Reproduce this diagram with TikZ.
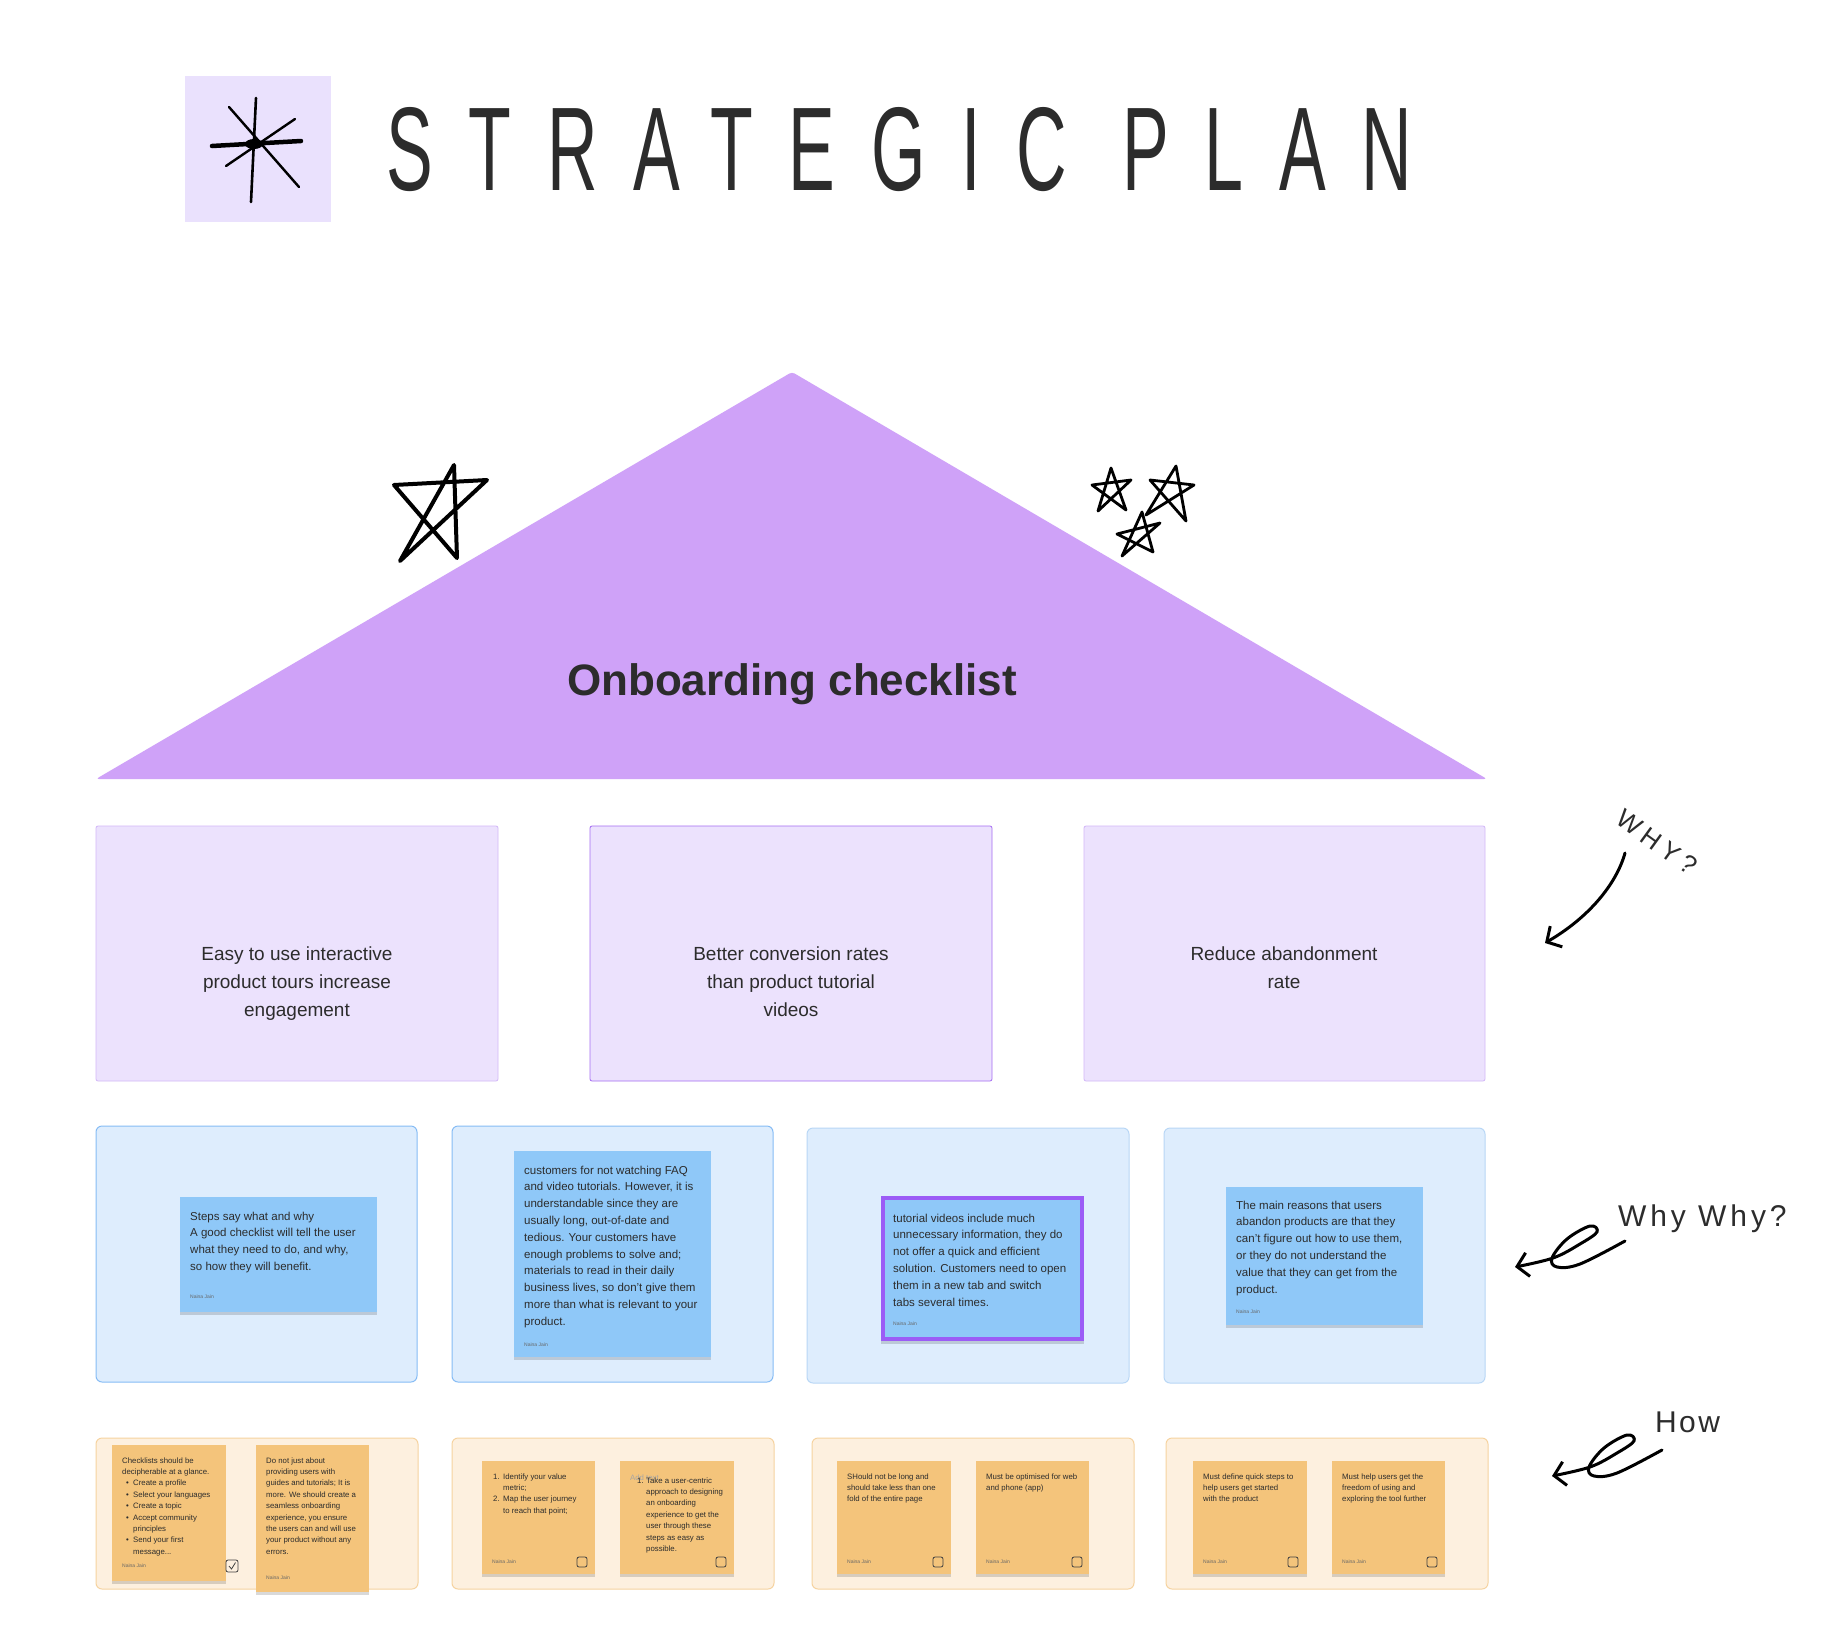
\documentclass[tikz,border=0pt]{standalone}
\usepackage{fontspec}
\setmainfont{Liberation Sans}
\usepackage{graphicx}
\usetikzlibrary{calc,arrows.meta,shadows}

\definecolor{tilelilac}{HTML}{EAE1FD}
\definecolor{roofpurple}{HTML}{CFA2F8}
\definecolor{lilac}{HTML}{ECE2FD}
\definecolor{lilacline}{HTML}{D3B8F8}
\definecolor{lilacdark}{HTML}{A56DF2}
\definecolor{skyfill}{HTML}{DEEDFD}
\definecolor{skyline}{HTML}{86BCF5}
\definecolor{skylight}{HTML}{B9D7F6}
\definecolor{skynote}{HTML}{8FC8F8}
\definecolor{sandfill}{HTML}{FDF0DF}
\definecolor{sandline}{HTML}{F6D3A0}
\definecolor{sandnote}{HTML}{F4C47B}
\definecolor{notepurple}{HTML}{9B5CF6}
\definecolor{ink}{HTML}{2C2C2C}

\tikzset{
    pillar/.style={fill=lilac,draw=lilacline,line width=0.8pt,rounded corners=2pt},
    pillartext/.style={anchor=north,align=center,inner sep=0pt,text=ink,font=\fontsize{19}{28}\selectfont},
    tray/.style={line width=1pt,rounded corners=6pt},
    note shadow/.style={drop shadow={shadow xshift=0pt,shadow yshift=-2.5pt,opacity=0.15,fill=black}},
    notetext/.style={anchor=north west,align=left,inner sep=0pt,text=ink,font=\fontsize{11.5}{16.8}\selectfont},
    smalltext/.style={anchor=north west,align=left,inner sep=0pt,text=ink,font=\fontsize{7.8}{11.4}\selectfont},
    author/.style={anchor=base west,inner sep=0pt,text=black!60,font=\fontsize{5}{6}\selectfont},
    tickbox/.style={draw=black!75,line width=0.8pt,rounded corners=2pt},
    hand/.style={black,line width=3pt,line cap=round,line join=round},
    barb/.style={-{Straight Barb[length=11pt,width=24pt]}},
}

\begin{document}
\begin{tikzpicture}[x=1pt,y=-1pt]

    % Canvas
    \fill[white] (0,0) rectangle (1832,1636);
    \useasboundingbox (0,0) rectangle (1832,1636);

    % Title tile with the asterisk
    \fill[tilelilac] (185,76) rectangle (331,222);
    \draw[hand,line width=2.6pt] (256,98) -- (251,202);
    \draw[hand,line width=2.4pt] (229,107) -- (299,187);
    \draw[hand,line width=2.4pt] (295,119) -- (226,166);
    \draw[hand,line width=4.5pt] (212,146) -- (301,141);
    \fill[black] (254,144) ellipse (9pt and 5pt);

    % Title
    \node[anchor=west,inner sep=0pt,text=ink,font=\fontsize{70}{80}\selectfont] (title) at (386,150)
        {\scalebox{1}[1.7]{\addfontfeature{LetterSpace=51}STRATEGIC PLAN}};

    % Roof
    \fill[roofpurple,rounded corners=3pt] (792,372) -- (1487,779) -- (96,779) -- cycle;
    \node[anchor=base,inner sep=0pt,text=ink,font=\bfseries\fontsize{44}{50}\selectfont] (roof) at (792,695)
        {Onboarding checklist};

    % Stars on the roof
    \draw[hand,line width=4pt] (454,465) -- (400,561) -- (487,480) -- (394,485) -- (457,558) -- cycle;
    \draw[hand,line width=2.8pt] (1111,468) -- (1098,511) -- (1131,480) -- (1092,485) -- (1126,510) -- cycle;
    \draw[hand,line width=2.8pt] (1176,466) -- (1146,515) -- (1194,485) -- (1150,480) -- (1186,521) -- cycle;
    \draw[hand,line width=2.8pt] (1142,512) -- (1122,556) -- (1160,523) -- (1117,534) -- (1153,552) -- cycle;

    % Pillars
    \draw[pillar] (96,826) rectangle (498,1081);
    \draw[pillar,draw=lilacdark] (590,826) rectangle (992,1081);
    \draw[pillar] (1084,826) rectangle (1485,1081);
    \node[pillartext] (easy) at (297,947) {Easy to use interactive\\product tours increase\\engagement};
    \node[pillartext] (better) at (791,947) {Better conversion rates\\than product tutorial\\videos};
    \node[pillartext] (reduce) at (1284,947) {Reduce abandonment\\rate};

    % Blue trays
    \draw[tray,fill=skyfill,draw=skyline] (96,1126) rectangle (417,1382);
    \draw[tray,fill=skyfill,draw=skyline] (452,1126) rectangle (773,1382);
    \draw[tray,fill=skyfill,draw=skylight] (807,1128) rectangle (1129,1383);
    \draw[tray,fill=skyfill,draw=skylight] (1164,1128) rectangle (1485,1383);

    % Blue sticky notes
    \fill[skynote,note shadow] (180,1197) rectangle (377,1312);
    \node[notetext] (steps) at (190,1211.6) {Steps say what and why\\A good checklist will tell the user\\what they need to do, and why,\\so how they will benefit.};
    \node[author] (steps by) at (190,1298) {Naina Jain};

    \fill[skynote,note shadow] (514,1151) rectangle (711,1357);
    \node[notetext] (faq) at (524,1165.6) {customers for not watching FAQ\\and video tutorials. However, it is\\understandable since they are\\usually long, out-of-date and\\tedious. Your customers have\\enough problems to solve and;\\materials to read in their daily\\business lives, so don’t give them\\more than what is relevant to your\\product.};
    \node[author] (faq by) at (524,1346) {Naina Jain};

    \fill[skynote,note shadow] (881,1196) rectangle (1084,1341);
    \draw[notepurple,line width=4pt] (883,1198) rectangle (1082,1339);
    \node[notetext] (videos) at (893,1213.6) {tutorial videos include much\\unnecessary information, they do\\not offer a quick and efficient\\solution. Customers need to open\\them in a new tab and switch\\tabs several times.};
    \node[author] (videos by) at (893,1325) {Naina Jain};

    \fill[skynote,note shadow] (1226,1187) rectangle (1423,1325);
    \node[notetext] (reasons) at (1236,1200.6) {The main reasons that users\\abandon products are that they\\can’t figure out how to use them,\\or they do not understand the\\value that they can get from the\\product.};
    \node[author] (reasons by) at (1236,1313) {Naina Jain};

    % Sand trays
    \draw[tray,fill=sandfill,draw=sandline] (96,1438) rectangle (418,1589);
    \draw[tray,fill=sandfill,draw=sandline] (452,1438) rectangle (774,1589);
    \draw[tray,fill=sandfill,draw=sandline] (812,1438) rectangle (1134,1589);
    \draw[tray,fill=sandfill,draw=sandline] (1166,1438) rectangle (1488,1589);

    % Sand sticky notes
    \fill[sandnote,note shadow] (112,1445) rectangle (226,1581);
    \node[smalltext] (glance) at (122,1457.3) {Checklists should be\\decipherable at a glance.\\
        \makebox[11pt][l]{\hspace*{4pt}\textbullet}Create a profile\\
        \makebox[11pt][l]{\hspace*{4pt}\textbullet}Select your languages\\
        \makebox[11pt][l]{\hspace*{4pt}\textbullet}Create a topic\\
        \makebox[11pt][l]{\hspace*{4pt}\textbullet}Accept community\\
        \hspace*{11pt}principles\\
        \makebox[11pt][l]{\hspace*{4pt}\textbullet}Send your first\\
        \hspace*{11pt}message...};
    \node[author] (glance by) at (122,1567) {Naina Jain};
    \draw[tickbox] (226,1560) rectangle (238,1572);
    \draw[black!75,line width=0.8pt] (229,1566) -- (231.5,1569) -- (235.5,1562.5);

    \fill[sandnote,note shadow] (256,1445) rectangle (369,1592);
    \node[smalltext] (seamless) at (266,1457.3) {Do not just about\\providing users with\\guides and tutorials; It is\\more. We should create a\\seamless onboarding\\experience, you ensure\\the users can and will use\\your product without any\\errors.};
    \node[author] (seamless by) at (266,1579) {Naina Jain};

    \fill[sandnote,note shadow] (482,1461) rectangle (595,1574);
    \node[smalltext] (metric) at (493,1473.3) {\makebox[10pt][l]{1.}Identify your value\\\hspace*{10pt}metric;\\\makebox[10pt][l]{2.}Map the user journey\\\hspace*{10pt}to reach that point;};
    \node[author] (metric by) at (492,1563) {Naina Jain};
    \draw[tickbox] (577,1557) rectangle (587,1567);

    \fill[sandnote,note shadow] (620,1461) rectangle (734,1574);
    \node[anchor=base west,inner sep=0pt,text=black!35,font=\fontsize{7.8}{11.4}\selectfont] (placeholder) at (630,1480) {Add text};
    \node[smalltext] (centric) at (637,1477.3) {\makebox[9pt][l]{1.}Take a user-centric\\\hspace*{9pt}approach to designing\\\hspace*{9pt}an onboarding\\\hspace*{9pt}experience to get the\\\hspace*{9pt}user through these\\\hspace*{9pt}steps as easy as\\\hspace*{9pt}possible.};
    \draw[tickbox] (716,1557) rectangle (726,1567);

    \fill[sandnote,note shadow] (837,1461) rectangle (951,1574);
    \node[smalltext] (short) at (847,1473.3) {SHould not be long and\\should take less than one\\fold of the entire page};
    \node[author] (short by) at (847,1563) {Naina Jain};
    \draw[tickbox] (933,1557) rectangle (943,1567);

    \fill[sandnote,note shadow] (976,1461) rectangle (1089,1574);
    \node[smalltext] (optimised) at (986,1473.3) {Must be optimised for web\\and phone (app)};
    \node[author] (optimised by) at (986,1563) {Naina Jain};
    \draw[tickbox] (1072,1557) rectangle (1082,1567);

    \fill[sandnote,note shadow] (1193,1461) rectangle (1307,1574);
    \node[smalltext] (quick) at (1203,1473.3) {Must define quick steps to\\help users get started\\with the product};
    \node[author] (quick by) at (1203,1563) {Naina Jain};
    \draw[tickbox] (1288,1557) rectangle (1298,1567);

    \fill[sandnote,note shadow] (1332,1461) rectangle (1445,1574);
    \node[smalltext] (freedom) at (1342,1473.3) {Must help users get the\\freedom of using and\\exploring the tool further};
    \node[author] (freedom by) at (1342,1563) {Naina Jain};
    \draw[tickbox] (1427,1557) rectangle (1437,1567);

    % Hand notes on the right
    \node[rotate=-36,inner sep=0pt,text=ink,font=\fontsize{26}{30}\selectfont] (why) at (1657,842)
        {\addfontfeature{LetterSpace=22}WHY?};
    \node[anchor=base west,inner sep=0pt,text=ink,font=\fontsize{30}{34}\selectfont] (why why) at (1618,1226)
        {\addfontfeature{LetterSpace=13}Why Why?};
    \node[anchor=base west,inner sep=0pt,text=ink,font=\fontsize{30}{34}\selectfont] (how) at (1655,1432)
        {\addfontfeature{LetterSpace=8}How};

    \coordinate (why start) at (1625,853);
    \coordinate (why tip) at (1545,943);
    \draw[hand,barb] (why start) .. controls (1616,885) and (1588,918) .. (why tip);

    \coordinate (why why start) at (1625,1241);
    \coordinate (why why tip) at (1515,1267);
    \draw[hand,barb] plot[smooth,tension=0.6] coordinates {(why why start) (1580,1264) (1557,1267) (1552,1258) (1567,1239) (1590,1226) (1597,1232) (1580,1244) (1553,1258) (why why tip)};

    \coordinate (how start) at (1662,1450);
    \coordinate (how tip) at (1552,1476);
    \draw[hand,barb] plot[smooth,tension=0.6] coordinates {(how start) (1617,1473) (1594,1476) (1589,1467) (1604,1448) (1627,1435) (1634,1441) (1617,1453) (1590,1467) (how tip)};

\end{tikzpicture}
\end{document}
